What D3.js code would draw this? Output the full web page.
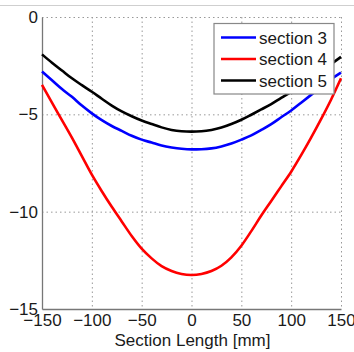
<!DOCTYPE html>
<html>
<head>
<meta charset="utf-8">
<script src="https://cdn.jsdelivr.net/npm/d3@7"></script>
<style>
  body { margin: 0; background: #fff; }
  text { font-family: "Liberation Sans", Arial, sans-serif; fill: #1a1a1a; }
  .grid line { stroke: #999; stroke-dasharray: 1.5,3; stroke-width: 1; }
  .line { fill: none; stroke-width: 2.6; stroke-linejoin: round; }
</style>
</head>
<body>
<svg id="chart" width="354" height="352"></svg>
<script>
// section length positions [mm]
var xs = [-150, -140, -130, -120, -110, -100, -90, -80, -70, -60, -50, -40, -30, -20, -10, 0,
  10, 20, 30, 40, 50, 60, 70, 80, 90, 100, 110, 120, 130, 140, 150];

var section3 = [-2.8, -3.25, -3.7, -4.1, -4.55, -4.95, -5.3, -5.6, -5.85, -6.1, -6.3, -6.45, -6.6, -6.7, -6.77, -6.8,
  -6.79, -6.75, -6.65, -6.5, -6.3, -6.08, -5.8, -5.5, -5.15, -4.8, -4.4, -4.0, -3.6, -3.2, -2.86];
var section4 = [-3.49, -4.4, -5.3, -6.2, -7.15, -8.1, -8.95, -9.75, -10.5, -11.25, -11.9, -12.4, -12.8, -13.05, -13.2, -13.25,
  -13.2, -13.05, -12.78, -12.35, -11.75, -11.0, -10.2, -9.45, -8.7, -7.95, -7.1, -6.2, -5.25, -4.25, -3.15];
var section5 = [-1.92, -2.35, -2.75, -3.15, -3.5, -3.84, -4.2, -4.55, -4.85, -5.1, -5.32, -5.5, -5.67, -5.8, -5.87, -5.89,
  -5.87, -5.8, -5.68, -5.5, -5.28, -5.02, -4.75, -4.47, -4.15, -3.85, -3.5, -3.15, -2.8, -2.42, -2.05];

var names = ["section 3", "section 4", "section 5"];
var colors = ["#0000ff", "#ff0000", "#000000"];
var xTicks = [-150, -100, -50, 0, 50, 100, 150];
var yTicks = [0, -5, -10, -15];

var svg = d3.select("#chart");
var margin = { top: 17, right: 13, bottom: 43, left: 42 },
  width = +svg.attr("width") - margin.left - margin.right,
  height = +svg.attr("height") - margin.top - margin.bottom;

// thin rule across the top of the figure
svg.append("line")
  .attr("x1", 0).attr("x2", 354).attr("y1", 5.5).attr("y2", 5.5)
  .style("stroke", "#cfcfcf").style("stroke-width", 1);

var g = svg.append("g")
  .attr("transform", "translate(" + margin.left + "," + margin.top + ")");

var x = d3.scaleLinear().domain([-150, 150]).range([0, width]);
var y = d3.scaleLinear().domain([-15, 0]).range([height, 0]);

// dotted grid
var grid = g.append("g").attr("class", "grid");
grid.selectAll(".gx").data(xTicks.slice(1)).enter().append("line")
  .attr("x1", function (d) { return x(d) + 0.5; })
  .attr("x2", function (d) { return x(d) + 0.5; })
  .attr("y1", 0).attr("y2", height);
grid.selectAll(".gy").data(yTicks.slice(0, 3)).enter().append("line")
  .attr("x1", 0).attr("x2", width)
  .attr("y1", function (d) { return y(d) + 0.5; })
  .attr("y2", function (d) { return y(d) + 0.5; });

// axes
var xAxis = g.append("g")
  .attr("transform", "translate(0," + height + ")")
  .call(d3.axisBottom(x).tickValues(xTicks).tickSize(0).tickPadding(5));
var yAxis = g.append("g")
  .call(d3.axisLeft(y).tickValues(yTicks).tickSize(0).tickPadding(4));
[xAxis, yAxis].forEach(function (a) {
  a.select(".domain").style("stroke", "#777").style("stroke-width", 1.3);
  a.selectAll("text").style("font-size", "17px").style("font-family", "Liberation Sans, Arial, sans-serif").attr("fill", "#1a1a1a");
});

// curves
var series = [section3, section4, section5];
var line = d3.line()
  .x(function (d, i) { return x(xs[i]); })
  .y(function (d) { return y(d); })
  .curve(d3.curveMonotoneX);

g.selectAll(".line").data(series).enter().append("path")
  .attr("class", "line")
  .attr("d", function (d) { return line(d); })
  .style("stroke", function (d, i) { return colors[i]; });

// x label
g.append("text")
  .attr("x", width / 2 + 1)
  .attr("y", height + 37)
  .attr("text-anchor", "middle")
  .style("font-size", "17px")
  .text("Section Length [mm]");

// legend
var lg = svg.append("g").attr("transform", "translate(214,23.5)");
lg.append("rect")
  .attr("width", 120).attr("height", 70.5)
  .style("fill", "#fff").style("stroke", "#888").style("stroke-width", 1.2);
var item = lg.selectAll(".item").data(names).enter().append("g")
  .attr("transform", function (d, i) { return "translate(0," + (14 + i * 21.5) + ")"; });
item.append("line")
  .attr("x1", 7).attr("x2", 42)
  .style("stroke", function (d, i) { return colors[i]; })
  .style("stroke-width", 2.6);
item.append("text")
  .attr("x", 45).attr("dy", "0.36em")
  .style("font-size", "17px")
  .text(function (d) { return d; });
</script>
</body>
</html>
